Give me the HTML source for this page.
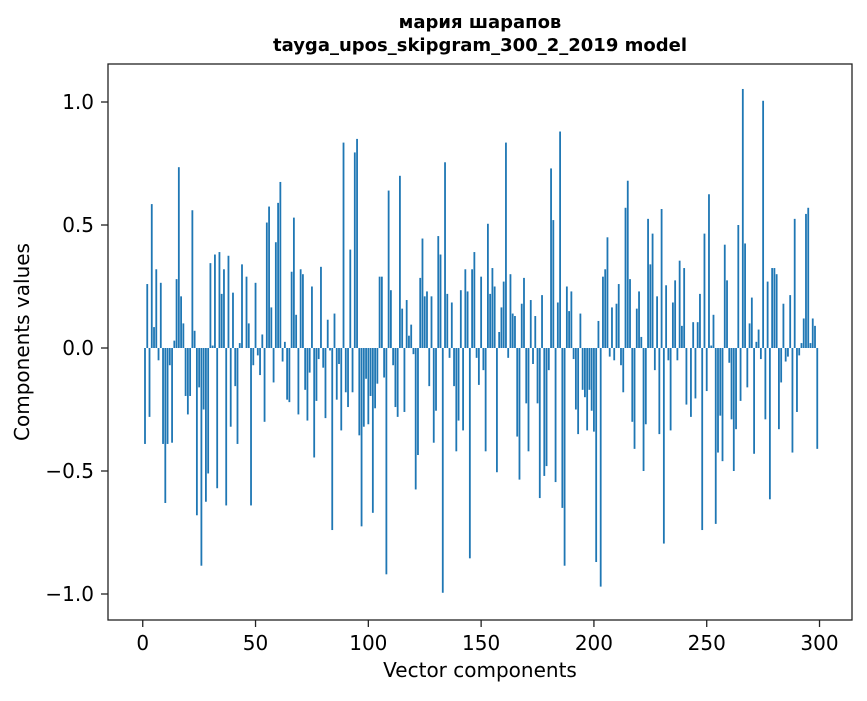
<!DOCTYPE html>
<html><head><meta charset="utf-8"><style>
body{margin:0;background:#fff;}
svg text{font-family:"DejaVu Sans","Liberation Sans",sans-serif;fill:#000;}
</style></head><body>
<svg id="chart" width="867" height="696" xmlns="http://www.w3.org/2000/svg">
<text x="480" y="28" text-anchor="middle" font-size="18" font-weight="bold">мария шарапов</text>
<text x="480" y="51" text-anchor="middle" font-size="18" font-weight="bold">tayga_upos_skipgram_300_2_2019 model</text>
<g id="bars"></g>
<g id="axes"></g>
<text x="480" y="677" text-anchor="middle" font-size="20">Vector components</text>
<text transform="translate(29,342) rotate(-90)" text-anchor="middle" font-size="20">Components values</text>
</svg>
<script>
const values=[0.0,-0.39,0.26,-0.28,0.585,0.085,0.32,-0.05,0.265,-0.39,-0.63,-0.39,-0.07,-0.385,0.03,0.28,0.735,0.21,0.1,-0.195,
-0.27,-0.195,0.56,0.07,-0.68,-0.16,-0.885,-0.25,-0.625,-0.51,0.345,0.01,0.38,-0.57,0.39,0.22,0.32,-0.64,0.375,-0.32,
0.225,-0.155,-0.39,0.02,0.34,0.0,0.29,0.1,-0.64,-0.07,0.265,-0.03,-0.11,0.055,-0.3,0.51,0.575,0.165,-0.14,0.43,
0.59,0.675,-0.055,0.025,-0.21,-0.22,0.31,0.53,0.135,-0.27,0.32,0.3,-0.17,-0.295,-0.1,0.25,-0.445,-0.215,-0.045,0.33,
-0.08,-0.285,0.115,-0.01,-0.74,0.14,-0.21,-0.065,-0.335,0.835,-0.18,-0.24,0.40,-0.18,0.795,0.85,-0.355,-0.725,-0.32,-0.125,
-0.31,-0.195,-0.67,-0.245,-0.145,0.29,0.29,-0.12,-0.92,0.64,0.235,-0.07,-0.24,-0.28,0.70,0.16,-0.26,0.195,0.05,0.095,
-0.025,-0.575,-0.435,0.285,0.445,0.21,0.23,-0.155,0.21,-0.385,-0.255,0.455,0.38,-0.995,0.755,0.22,-0.04,0.185,-0.155,-0.42,
-0.295,0.235,-0.335,0.32,0.23,-0.855,0.32,0.39,-0.04,-0.15,0.29,-0.09,-0.42,0.505,0.22,0.325,0.25,-0.505,0.065,0.165,
0.27,0.835,-0.04,0.30,0.14,0.13,-0.36,-0.535,0.18,0.285,-0.225,-0.42,0.195,-0.065,0.13,-0.225,-0.61,0.215,-0.52,-0.48,
-0.09,0.73,0.52,-0.545,0.185,0.88,-0.65,-0.885,0.25,0.15,0.23,-0.045,-0.25,-0.35,0.14,-0.17,-0.2,-0.335,-0.17,-0.255,
-0.34,-0.87,0.11,-0.97,0.29,0.32,0.45,-0.035,0.165,-0.05,0.18,0.26,-0.07,-0.18,0.57,0.68,0.28,-0.3,-0.41,0.16,
0.23,0.045,-0.5,-0.31,0.525,0.34,0.465,-0.09,0.21,-0.35,0.565,-0.795,0.255,-0.05,-0.335,0.185,0.275,-0.05,0.355,0.09,
0.325,-0.23,0.0,-0.28,0.105,-0.205,0.105,0.22,-0.74,0.465,-0.175,0.625,0.01,0.135,-0.715,-0.425,-0.275,-0.46,0.42,0.275,
-0.06,-0.29,-0.5,-0.33,0.5,-0.215,1.053,0.425,-0.16,0.1,0.205,-0.43,0.025,0.075,-0.045,1.005,-0.29,0.27,-0.615,0.325,
0.325,0.3,-0.33,-0.14,0.18,-0.055,-0.035,0.215,-0.425,0.525,-0.26,-0.03,0.02,0.12,0.545,0.57,0.02,0.12,0.09,-0.41];
const xTicks=[0,50,100,150,200,250,300];
const yTicks=[-1.0,-0.5,0.0,0.5,1.0];
const yTickLabels=["\u22121.0","\u22120.5","0.0","0.5","1.0"];
const L=108,R=852,T=64,B=620;
const xmin=-15.4,xmax=314.4,ymin=-1.1057,ymax=1.1545;
function sx(v){return L+(v-xmin)/(xmax-xmin)*(R-L);}
function sy(v){return T+(ymax-v)/(ymax-ymin)*(B-T);}
const NS="http://www.w3.org/2000/svg";
const bars=document.getElementById('bars');
values.forEach((v,i)=>{
  const r=document.createElementNS(NS,'rect');
  const x0=sx(i-0.4),x1=sx(i+0.4);
  const y0=Math.min(sy(v),sy(0)),y1=Math.max(sy(v),sy(0));
  r.setAttribute('x',x0);r.setAttribute('width',x1-x0);
  r.setAttribute('y',y0);r.setAttribute('height',Math.max(y1-y0,0.01));
  r.setAttribute('fill','#1f77b4');
  
  
  bars.appendChild(r);
});
const ax=document.getElementById('axes');
const frame=document.createElementNS(NS,'rect');
frame.setAttribute('x',L);frame.setAttribute('y',T);frame.setAttribute('width',R-L);frame.setAttribute('height',B-T);
frame.setAttribute('fill','none');frame.setAttribute('stroke','#222');frame.setAttribute('stroke-width','1.3');


ax.appendChild(frame);
xTicks.forEach(t=>{
  const x=sx(t);
  const l=document.createElementNS(NS,'line');
  l.setAttribute('x1',x);l.setAttribute('x2',x);l.setAttribute('y1',B);l.setAttribute('y2',B+7);l.setAttribute('stroke','#222');l.setAttribute('stroke-width','1.3');
  
  
  ax.appendChild(l);
  const tx=document.createElementNS(NS,'text');
  tx.setAttribute('x',x);tx.setAttribute('y',B+30);tx.setAttribute('text-anchor','middle');tx.setAttribute('font-size','20');
  tx.textContent=t;
  
  
  ax.appendChild(tx);
});
yTicks.forEach((t,i)=>{
  const y=sy(t);
  const l=document.createElementNS(NS,'line');
  l.setAttribute('x1',L-7);l.setAttribute('x2',L);l.setAttribute('y1',y);l.setAttribute('y2',y);l.setAttribute('stroke','#222');l.setAttribute('stroke-width','1.3');
  
  
  ax.appendChild(l);
  const tx=document.createElementNS(NS,'text');
  tx.setAttribute('x',L-14);tx.setAttribute('y',y+7);tx.setAttribute('text-anchor','end');tx.setAttribute('font-size','20');
  tx.textContent=yTickLabels[i];
  
  
  ax.appendChild(tx);
});
</script>
</body></html>
